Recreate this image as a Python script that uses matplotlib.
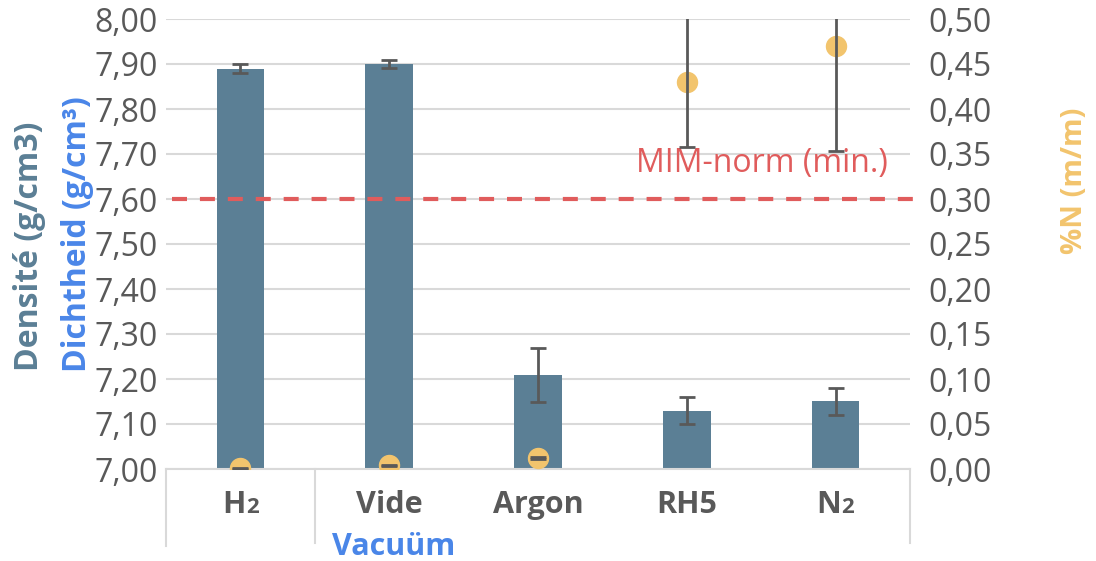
import matplotlib
matplotlib.use("Agg")
import matplotlib.pyplot as plt
import numpy as np

plt.rcParams['font.family'] = ['Open Sans', 'DejaVu Sans']

# Sintering atmospheres (main part, subscript part)
categories = [("H", "2"), ("Vide", ""), ("Argon", ""), ("RH5", ""), ("N", "2")]

# Density (g/cm3) with standard deviation
density = [7.89, 7.90, 7.21, 7.13, 7.15]
density_err = [0.01, 0.01, 0.06, 0.03, 0.03]

# Nitrogen content (% m/m) with standard deviation
nitrogen = [0.001, 0.004, 0.012, 0.43, 0.47]
nitrogen_err = [0.0005, 0.0005, 0.001, 0.072, 0.117]

# Minimum density according to MIM standard
mim_norm = 7.60

left_ticks = [7.00, 7.10, 7.20, 7.30, 7.40, 7.50, 7.60, 7.70, 7.80, 7.90, 8.00]
right_ticks = [0.00, 0.05, 0.10, 0.15, 0.20, 0.25, 0.30, 0.35, 0.40, 0.45, 0.50]

bar_color = "#5b7f95"
point_color = "#f2c46d"
err_color = "#595959"
norm_color = "#e05c5c"
grid_color = "#d9d9d9"
text_color = "#595959"
nl_blue = "#4a86e8"

fig = plt.figure(figsize=(10.96, 5.61), dpi=100)
ax = fig.add_axes([166 / 1096, 92 / 561, 744 / 1096, 450 / 561])
ax2 = ax.twinx()

x = np.arange(len(categories))

ax.set_axisbelow(True)
ax.yaxis.grid(True, color=grid_color, lw=1.5)
ax.bar(x, [d - left_ticks[0] for d in density], bottom=left_ticks[0], width=0.32,
       color=bar_color, zorder=2)
ax.errorbar(x, density, yerr=density_err, fmt='none', ecolor=err_color,
            elinewidth=2, capsize=5.5, capthick=2, zorder=3)
ax.plot([-0.46, 4.55], [mim_norm, mim_norm], color=norm_color, lw=3,
        dashes=(3.6, 3.1), clip_on=False, zorder=4)
ax.text(3.505, 7.66, "MIM-norm (min.)", color=norm_color, fontsize=23,
        ha='center', va='baseline', zorder=5)

ax.set_xlim(-0.5, 4.5)
ax.set_ylim(7.0, 8.0)
ax.set_yticks(left_ticks)
ax.set_yticklabels([f"{t:.2f}".replace(".", ",") for t in left_ticks])
ax.set_xticks(x)
ax.set_xticklabels([])
ax.tick_params(axis='y', length=0, pad=5.8, labelsize=23, labelcolor=text_color)
ax.tick_params(axis='x', length=0)

for spine in ["top", "right", "left"]:
    ax.spines[spine].set_visible(False)
    ax2.spines[spine].set_visible(False)
ax.spines["bottom"].set_color(grid_color)
ax.spines["bottom"].set_linewidth(1.5)
ax2.spines["bottom"].set_visible(False)

trans = ax.get_xaxis_transform()

# Category labels, with the index digit drawn smaller on the baseline
for xi, (main, sub) in zip(x, categories):
    if sub:
        ax.annotate(main, xy=(xi, 0), xycoords=trans, xytext=(4, -31.7),
                    textcoords='offset points', ha='right', va='baseline',
                    fontsize=22, fontweight='bold', color=text_color)
        ax.annotate(sub, xy=(xi, 0), xycoords=trans, xytext=(4, -31.7),
                    textcoords='offset points', ha='left', va='baseline',
                    fontsize=16, fontweight='bold', color=text_color)
    else:
        ax.annotate(main, xy=(xi, 0), xycoords=trans, xytext=(0, -31.7),
                    textcoords='offset points', ha='center', va='baseline',
                    fontsize=22, fontweight='bold', color=text_color)

# Category group separators below the axis
for xb, yb in [(-0.5, -0.17), (0.5, -0.165), (4.5, -0.165)]:
    ax.plot([xb, xb], [0, yb], color=grid_color, lw=1.5, transform=trans,
            clip_on=False)
ax.annotate("Vacuüm", xy=(1.032, 0), xycoords=trans, xytext=(0, -61.9),
            textcoords='offset points', color=nl_blue, fontsize=22,
            fontweight='bold', ha='center', va='baseline')

ax2.plot(x, nitrogen, 'o', color=point_color, ms=14.4, zorder=3)
ax2.errorbar(x, nitrogen, yerr=nitrogen_err, fmt='none', ecolor=err_color,
             elinewidth=2, capsize=5.5, capthick=2, zorder=4)
ax2.set_ylim(0, 0.5)
ax2.set_yticks(right_ticks)
ax2.set_yticklabels([f"{t:.2f}".replace(".", ",") for t in right_ticks])
ax2.tick_params(axis='y', length=0, pad=13, labelsize=23, labelcolor=text_color)

fig.text(30 / 1096, 0.561, "Densité (g/cm3)", rotation=90, color=bar_color,
         fontsize=23, fontweight='bold', ha='center', va='center')
fig.text(77 / 1096, 0.583, "Dichtheid (g/cm³)", rotation=90, color=nl_blue,
         fontsize=23, fontweight='bold', ha='center', va='center')
fig.text(1075 / 1096, 0.677, "%N (m/m)", rotation=90, color=point_color,
         fontsize=21, fontweight='bold', ha='center', va='center')

fig.savefig("out.png", dpi=100)
